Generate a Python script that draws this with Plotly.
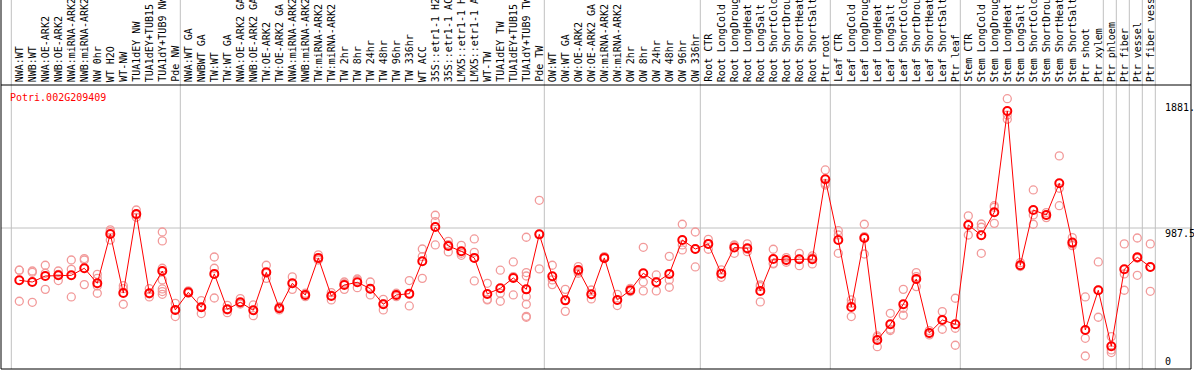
import plotly.graph_objects as go

categories = [
    "NWA:WT", "NWB:WT", "NWA:OE-ARK2", "NWB:OE-ARK2", "NWA:miRNA-ARK2", "NWB:miRNA-ARK2",
    "NW 0hr", "WT H2O", "WT-NW", "TUA1dEY NW", "TUA1dEY+TUB15", "TUA1dY+TUB9 NW", "Pde NW",
    "NWA:WT GA", "NWBWT GA", "TW:WT", "TW:WT GA", "NWA:OE-ARK2 GA", "NWB:OE-ARK2 GA",
    "TW:OE-ARK2", "TW:OE-ARK2 GA", "NWA:miRNA-ARK2", "NWB:miRNA-ARK2", "TW:miRNA-ARK2",
    "TW:miRNA-ARK2", "TW 2hr", "TW 8hr", "TW 24hr", "TW 48hr", "TW 96hr", "TW 336hr",
    "WT ACC", "35S::etr1-1 H2O", "35S::etr1-1 ACC", "LMX5::etr1-1 H2O", "LMX5::etr1-1 ACC",
    "WT-TW", "TUA1dEY TW", "TUA1dEY+TUB15", "TUA1dY+TUB9 TW", "Pde TW",
    "OW:WT", "OW:WT GA", "OW:OE-ARK2", "OW:OE-ARK2 GA", "OW:miRNA-ARK2", "OW:miRNA-ARK2",
    "OW 2hr", "OW 8hr", "OW 24hr", "OW 48hr", "OW 96hr", "OW 336hr",
    "Root CTR", "Root LongCold", "Root LongDrought", "Root LongHeat", "Root LongSalt",
    "Root ShortCold", "Root ShortDrought", "Root ShortHeat", "Root ShortSalt", "Ptr root",
    "Leaf CTR", "Leaf LongCold", "Leaf LongDrought", "Leaf LongHeat", "Leaf LongSalt",
    "Leaf ShortCold", "Leaf ShortDrought", "Leaf ShortHeat", "Leaf ShortSalt", "Ptr leaf",
    "Stem CTR", "Stem LongCold", "Stem LongDrought", "Stem LongHeat", "Stem LongSalt",
    "Stem ShortCold", "Stem ShortDrought", "Stem ShortHeat", "Stem ShortSalt", "Ptr shoot",
    "Ptr xylem", "Ptr phloem", "Ptr fiber", "Ptr vessel", "Ptr fiber vessel",
]

means = [
    588, 575, 621, 626, 626, 680, 565, 942, 491, 1095, 489, 659, 362,
    496, 382, 637, 367, 420, 359, 649, 374, 565, 476, 759, 468, 552, 573, 524, 405, 476,
    486, 733, 995, 850, 810, 759, 484, 527, 606, 519, 939,
    619, 435, 667, 481, 759, 438, 512, 642, 573, 637, 896, 827,
    866, 639, 838, 833, 507, 751, 743, 749, 749, 1360,
    896, 384, 911, 132, 252, 405, 598, 186, 285, 252,
    1011, 932, 1108, 1881, 703, 1125, 1087, 1329, 876, 209, 512,
    84, 672, 764, 690,
]

replicates = [
    [665, 665, 428], [659, 649, 420], [703, 642, 519], [659, 634, 586], [743, 672, 461],
    [754, 743, 555], [634, 603, 545, 489], [973, 960, 896], [547, 524, 405], [1125, 1087, 1069],
    [524, 484, 461], [957, 889, 680, 591, 522, 502, 481], [412, 311, 362],
    [507, 496, 489], [433, 334, 382], [766, 680, 453], [397, 341, 362], [448, 412, 407],
    [400, 318, 359], [703, 603, 642], [387, 362, 374], [614, 519, 563], [489, 463, 476],
    [782, 743, 751], [494, 438, 474], [575, 519, 563], [598, 532, 588], [575, 476, 522],
    [443, 362, 410], [489, 463, 476], [586, 392, 479], [827, 769, 603], [1085, 1036, 858],
    [886, 805, 861], [855, 794, 779], [904, 802, 583], [565, 443, 438], [665, 489, 428],
    [728, 616, 476], [917, 647, 621, 463, 405, 313, 306], [1199, 675, 939],
    [703, 591, 555], [519, 438, 351], [693, 654, 642], [514, 446, 481], [769, 754, 754],
    [481, 395, 438], [527, 502, 507], [840, 575, 507], [629, 578, 507], [771, 591, 535],
    [1016, 858, 820], [957, 827, 690],
    [901, 825, 866], [667, 611, 639], [858, 794, 855], [866, 807, 825], [552, 423, 540],
    [825, 718, 713], [761, 726, 743], [794, 700, 749], [774, 713, 759], [1431, 1316, 1329],
    [967, 934, 794], [438, 412, 311], [1016, 922, 789], [163, 81, 153], [336, 204, 214],
    [519, 374, 321], [647, 616, 540], [204, 171, 183], [349, 214, 290], [451, 222, 92],
    [1080, 934, 1011], [1018, 993, 794], [1158, 1146, 1023], [1975, 1850, 1818],
    [723, 700, 693], [1278, 1087, 1016], [1105, 1067, 1087], [1538, 1291, 1158],
    [914, 866, 853], [461, 145, 10], [728, 306, 512],
    [158, 56, 36], [866, 637, 512], [911, 626, 756], [866, 504, 690],
]

group_last = [-1, 12, 40, 52, 62, 72, 83, 84, 85, 86, 87]
gene_id = "Potri.002G209409"
y_labels = ["1881.", "987.5", "0"]
y_label_values = [1881, 987.5, 0]
y_label_shift = [4, -5, -4]

MONO = "DejaVu Sans Mono"
GRID = "#c0c0c0"
HEADER_TOP = 1 + 85 / 284

idx = list(range(len(categories)))
rep_x = [i for i, r in zip(idx, replicates) for _ in r]
rep_y = [v for r in replicates for v in r]

fig = go.Figure()
fig.add_trace(go.Scatter(
    x=rep_x, y=rep_y, mode="markers", hoverinfo="skip",
    marker=dict(symbol="circle-open", size=8, color="#f29a9a", line=dict(width=1.3)),
))
fig.add_trace(go.Scatter(
    x=idx, y=means, mode="lines+markers",
    line=dict(color="#ff0000", width=1),
    marker=dict(symbol="circle-open", size=8, color="#ff0000", line=dict(width=2)),
))

shapes = []
for g in group_last:
    xv = g + 5 / 13
    shapes.append(dict(type="line", xref="x", yref="paper", x0=xv, x1=xv, y0=0, y1=HEADER_TOP,
                       line=dict(color=GRID, width=1), layer="below"))
shapes.append(dict(type="line", xref="paper", yref="y", x0=0, x1=1, y0=987.5, y1=987.5,
                   line=dict(color=GRID, width=1), layer="below"))
shapes.append(dict(type="rect", xref="paper", yref="paper", x0=0, x1=1, y0=0, y1=1,
                   line=dict(color="black", width=1)))
shapes.append(dict(type="line", xref="paper", yref="paper", x0=0, x1=0, y0=1, y1=HEADER_TOP,
                   line=dict(color="black", width=1)))
shapes.append(dict(type="line", xref="paper", yref="paper", x0=1, x1=1, y0=1, y1=HEADER_TOP,
                   line=dict(color="black", width=1)))

annotations = []
for i, c in enumerate(categories):
    annotations.append(dict(
        x=i, y=1, xref="x", yref="paper", text=c, textangle=-90, showarrow=False,
        xanchor="center", yanchor="bottom", yshift=1,
        font=dict(family=MONO, size=10, color="black"),
    ))
for lab, val, sh in zip(y_labels, y_label_values, y_label_shift):
    annotations.append(dict(
        x=(1163 - 1) / 1190, y=val, xref="paper", yref="y", text=lab, showarrow=False,
        xanchor="left", yanchor="middle", yshift=sh,
        font=dict(family=MONO, size=10, color="black"),
    ))
annotations.append(dict(
    x=7 / 1190, y=1, xref="paper", yref="paper", text=gene_id, showarrow=False,
    xanchor="left", yanchor="middle", yshift=-12,
    font=dict(family=MONO, size=10, color="#ff0000"),
))

fig.update_layout(
    width=1194, height=370,
    margin=dict(l=1, r=3, t=85, b=1, pad=0),
    paper_bgcolor="white", plot_bgcolor="white",
    showlegend=False,
    xaxis=dict(range=[(1 - 19.3) / 13, (1191 - 19.3) / 13], showgrid=False, zeroline=False,
               showticklabels=False, ticks=""),
    yaxis=dict(range=[-89.4, 2079.6], showgrid=False, zeroline=False,
               showticklabels=False, ticks=""),
    shapes=shapes, annotations=annotations,
)

fig.write_html("out.html", config={"displayModeBar": False})

# remove the browser's default 8px body margin so the figure sits at the page origin
with open("out.html", "r", encoding="utf-8") as f:
    html = f.read()
html = html.replace("<head>", "<head><style>html,body{margin:0;padding:0;overflow:hidden;}</style>", 1)
with open("out.html", "w", encoding="utf-8") as f:
    f.write(html)
